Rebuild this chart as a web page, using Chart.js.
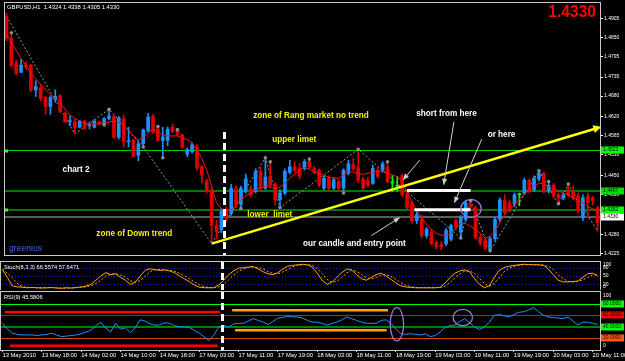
<!DOCTYPE html>
<html><head><meta charset="utf-8">
<script src="https://cdn.jsdelivr.net/npm/chart.js@4.4.1/dist/chart.umd.min.js"></script>
<style>
html,body{margin:0;padding:0;background:#000;width:625px;height:361px;overflow:hidden}
canvas{position:absolute;left:0;display:block}
</style></head><body>
<canvas id="cMain" width="625" height="259" style="top:0"></canvas>
<canvas id="cSto" width="625" height="30" style="top:260px"></canvas>
<canvas id="cRsi" width="625" height="71" style="top:290px"></canvas>
<script>
// ---------------- DATA ----------------
const categories = [
'13 May 10:00','13 May 11:00','13 May 12:00','13 May 13:00','13 May 14:00','13 May 15:00','13 May 16:00','13 May 17:00','13 May 18:00','13 May 19:00',
'13 May 20:00','13 May 21:00','13 May 22:00','13 May 23:00','14 May 00:00','14 May 01:00','14 May 02:00','14 May 03:00','14 May 04:00','14 May 05:00',
'14 May 06:00','14 May 07:00','14 May 08:00','14 May 09:00','14 May 10:00','14 May 11:00','14 May 12:00','14 May 13:00','14 May 14:00','14 May 15:00',
'14 May 16:00','14 May 17:00','14 May 18:00','14 May 19:00','14 May 20:00','14 May 21:00','14 May 22:00','17 May 00:00','17 May 01:00','17 May 02:00',
'17 May 03:00','17 May 04:00','17 May 05:00','17 May 06:00','17 May 07:00','17 May 08:00','17 May 09:00','17 May 10:00','17 May 11:00','17 May 12:00',
'17 May 13:00','17 May 14:00','17 May 15:00','17 May 16:00','17 May 17:00','17 May 18:00','17 May 19:00','17 May 20:00','17 May 21:00','17 May 22:00',
'17 May 23:00','18 May 00:00','18 May 01:00','18 May 02:00','18 May 03:00','18 May 04:00','18 May 05:00','18 May 06:00','18 May 07:00','18 May 08:00',
'18 May 09:00','18 May 10:00','18 May 11:00','18 May 12:00','18 May 13:00','18 May 14:00','18 May 15:00','18 May 16:00','18 May 17:00','18 May 18:00',
'18 May 19:00','18 May 20:00','18 May 21:00','18 May 22:00','18 May 23:00','19 May 00:00','19 May 01:00','19 May 02:00','19 May 03:00','19 May 04:00',
'19 May 05:00','19 May 06:00','19 May 07:00','19 May 08:00','19 May 09:00','19 May 10:00','19 May 11:00','19 May 12:00','19 May 13:00','19 May 14:00',
'19 May 15:00','19 May 16:00','19 May 17:00','19 May 18:00','19 May 19:00','19 May 20:00','19 May 21:00','19 May 22:00','19 May 23:00','20 May 00:00',
'20 May 01:00','20 May 02:00','20 May 03:00','20 May 04:00','20 May 05:00','20 May 06:00','20 May 07:00','20 May 08:00','20 May 09:00','20 May 10:00',
'20 May 11:00','20 May 12:00'];

const timeTicks = ['13 May 2010','13 May 18:00','14 May 02:00','14 May 10:00','14 May 18:00','17 May 03:00','17 May 11:00','17 May 19:00',
'18 May 03:00','18 May 11:00','18 May 19:00','19 May 03:00','19 May 11:00','19 May 19:00','20 May 03:00','20 May 11:00'];

const priceTicks = [1.4905,1.4850,1.4795,1.4735,1.4680,1.4620,1.4565,1.4510,1.4450,1.4395,1.4340,1.4280,1.4225];

const opens = [
1.4911,1.4846,1.4775,1.4749,1.4769,1.4769,1.4698,1.4704,1.4676,1.4650,
1.4670,1.4681,1.4630,1.4606,1.4605,1.4590,1.4608,1.4594,1.4590,1.4606,
1.4601,1.4615,1.4621,1.4561,1.4615,1.4548,1.4552,1.4509,1.4542,1.4580,
1.4621,1.4585,1.4552,1.4552,1.4590,1.4580,1.4568,1.4512,1.4519,1.4533,
1.4476,1.4435,1.4407,1.4307,1.4293,1.4349,1.4341,1.4412,1.4367,1.4405,
1.4412,1.4405,1.4462,1.4414,1.4448,1.4425,1.4381,1.4400,1.4460,1.4477,
1.4470,1.4471,1.4490,1.4471,1.4466,1.4414,1.4443,1.4414,1.4433,1.4414,
1.4457,1.4482,1.4473,1.4440,1.4437,1.4428,1.4466,1.4466,1.4476,1.4429,
1.4420,1.4450,1.4398,1.4370,1.4320,1.4325,1.4277,1.4287,1.4258,1.4250,
1.4253,1.4267,1.4321,1.4287,1.4324,1.4370,1.4358,1.4272,1.4265,1.4236,
1.4268,1.4324,1.4378,1.4372,1.4367,1.4395,1.4400,1.4437,1.4410,1.4440,
1.4457,1.4406,1.4423,1.4395,1.4386,1.4410,1.4405,1.4392,1.4329,1.4390,
1.4386,1.4358];
const highs = [
1.4920,1.4860,1.4784,1.4786,1.4778,1.4772,1.4724,1.4715,1.4679,1.4681,
1.4698,1.4684,1.4634,1.4622,1.4613,1.4610,1.4610,1.4605,1.4613,1.4608,
1.4618,1.4642,1.4625,1.4621,1.4625,1.4590,1.4555,1.4551,1.4585,1.4630,
1.4628,1.4592,1.4590,1.4591,1.4599,1.4583,1.4570,1.4530,1.4545,1.4540,
1.4480,1.4440,1.4412,1.4321,1.4355,1.4360,1.4425,1.4420,1.4420,1.4455,
1.4420,1.4470,1.4475,1.4502,1.4491,1.4430,1.4410,1.4470,1.4495,1.4490,
1.4485,1.4497,1.4498,1.4476,1.4470,1.4450,1.4450,1.4445,1.4440,1.4470,
1.4495,1.4500,1.4526,1.4445,1.4445,1.4480,1.4475,1.4491,1.4491,1.4452,
1.4448,1.4455,1.4402,1.4375,1.4345,1.4335,1.4300,1.4295,1.4262,1.4258,
1.4298,1.4310,1.4325,1.4335,1.4378,1.4378,1.4362,1.4280,1.4270,1.4272,
1.4330,1.4386,1.4395,1.4380,1.4400,1.4400,1.4443,1.4440,1.4450,1.4464,
1.4460,1.4433,1.4428,1.4400,1.4400,1.4425,1.4420,1.4400,1.4395,1.4400,
1.4390,1.4362];
const lows = [
1.4840,1.4764,1.4741,1.4747,1.4758,1.4693,1.4679,1.4667,1.4627,1.4627,
1.4662,1.4633,1.4605,1.4594,1.4571,1.4588,1.4583,1.4585,1.4588,1.4598,
1.4594,1.4611,1.4558,1.4556,1.4533,1.4533,1.4505,1.4493,1.4533,1.4577,
1.4573,1.4550,1.4502,1.4537,1.4574,1.4565,1.4528,1.4505,1.4515,1.4465,
1.4429,1.4400,1.4254,1.4268,1.4285,1.4318,1.4335,1.4358,1.4356,1.4400,
1.4390,1.4400,1.4408,1.4410,1.4418,1.4365,1.4358,1.4395,1.4455,1.4460,
1.4440,1.4466,1.4470,1.4455,1.4418,1.4410,1.4408,1.4410,1.4405,1.4400,
1.4452,1.4465,1.4430,1.4410,1.4418,1.4425,1.4443,1.4460,1.4430,1.4405,
1.4406,1.4390,1.4352,1.4312,1.4312,1.4270,1.4270,1.4250,1.4238,1.4236,
1.4248,1.4262,1.4295,1.4270,1.4318,1.4352,1.4268,1.4248,1.4235,1.4233,
1.4262,1.4318,1.4338,1.4345,1.4360,1.4363,1.4395,1.4400,1.4405,1.4435,
1.4400,1.4400,1.4385,1.4368,1.4380,1.4390,1.4380,1.4343,1.4320,1.4329,
1.4365,1.4290];
const closes = [
1.4846,1.4769,1.4747,1.4769,1.4764,1.4698,1.4707,1.4673,1.4650,1.4676,
1.4679,1.4634,1.4605,1.4609,1.4588,1.4607,1.4587,1.4596,1.4608,1.4601,
1.4615,1.4623,1.4561,1.4617,1.4549,1.4550,1.4506,1.4542,1.4582,1.4620,
1.4576,1.4552,1.4562,1.4585,1.4579,1.4570,1.4533,1.4526,1.4539,1.4473,
1.4452,1.4407,1.4306,1.4289,1.4348,1.4324,1.4414,1.4367,1.4414,1.4441,
1.4395,1.4462,1.4414,1.4446,1.4423,1.4381,1.4400,1.4463,1.4476,1.4466,
1.4449,1.4491,1.4476,1.4462,1.4424,1.4443,1.4414,1.4438,1.4414,1.4466,
1.4485,1.4470,1.4438,1.4414,1.4424,1.4471,1.4448,1.4485,1.4434,1.4429,
1.4420,1.4395,1.4358,1.4320,1.4338,1.4277,1.4296,1.4254,1.4244,1.4245,
1.4292,1.4306,1.4301,1.4329,1.4372,1.4360,1.4272,1.4255,1.4240,1.4268,
1.4324,1.4380,1.4343,1.4352,1.4395,1.4395,1.4437,1.4405,1.4443,1.4457,
1.4406,1.4422,1.4392,1.4386,1.4395,1.4395,1.4386,1.4349,1.4386,1.4372,
1.4378,1.4315];

// moving average (red line)
const maLine = [
1.4860,1.4835,1.4812,1.4789,1.4767,1.4747,1.4730,1.4713,1.4698,1.4684,
1.4673,1.4659,1.4642,1.4625,1.4616,1.4608,1.4602,1.4599,1.4599,1.4599,
1.4602,1.4605,1.4608,1.4605,1.4596,1.4582,1.4565,1.4554,1.4559,1.4573,
1.4585,1.4576,1.4568,1.4565,1.4565,1.4565,1.4559,1.4554,1.4545,1.4525,
1.4500,1.4466,1.4420,1.4372,1.4355,1.4349,1.4352,1.4366,1.4380,1.4392,
1.4400,1.4409,1.4414,1.4420,1.4417,1.4412,1.4417,1.4429,1.4443,1.4454,
1.4468,1.4474,1.4468,1.4460,1.4457,1.4451,1.4446,1.4443,1.4443,1.4451,
1.4463,1.4460,1.4457,1.4454,1.4457,1.4460,1.4463,1.4463,1.4457,1.4451,
1.4448,1.4431,1.4403,1.4375,1.4349,1.4329,1.4309,1.4295,1.4284,1.4278,
1.4278,1.4284,1.4298,1.4312,1.4312,1.4304,1.4295,1.4284,1.4270,1.4275,
1.4289,1.4315,1.4338,1.4352,1.4366,1.4383,1.4397,1.4409,1.4420,1.4429,
1.4426,1.4417,1.4412,1.4406,1.4400,1.4395,1.4386,1.4380,1.4372,1.4360,
1.4355,1.4349];

// ZigZag swing points (bar index, price)
const zigBars = [0,14,21,28,42,53,56,72,93,95,99,109,113,115,121];
const zigVals = [1.4911,1.4571,1.4642,1.4533,1.4254,1.4502,1.4358,1.4526,1.4270,1.4378,1.4233,1.4464,1.4368,1.4425,1.4290];
// grey fractal dots
const dotBars = [1,20,21,28,31,32,35,48,53,54,56,62,69,72,78,93,95,99,109,111,113,115];
const dotVals = [1.4863,1.4597,1.4642,1.4533,1.4592,1.4502,1.4583,1.4356,1.4502,1.4490,1.4358,1.4498,1.4400,1.4526,1.4490,1.4270,1.4378,1.4233,1.4464,1.4433,1.4369,1.4426];
// yellow trend line
const trendBars = [42,121];
const trendVals = [1.4254,1.4588];

// header values (last bar O H L C)
const headerSymbol = 'GBPUSD,H1';
const headerOHLC = [1.4324,1.4338,1.4305,1.4330];

// Stochastic(8,3,3)
const stochK = [
72,45,15,11,10,8,9,8,7,8,
9,7,6,8,7,9,11,14,20,35,
50,62,55,58,45,35,20,28,50,70,
76,72,70,72,68,62,50,40,30,18,
10,8,8,8,18,35,55,68,78,80,
82,84,75,65,58,55,62,75,85,88,
90,92,90,82,60,35,20,28,45,62,
75,72,55,40,35,45,55,60,50,38,
25,15,11,9,8,8,8,8,8,10,
25,45,60,68,72,65,40,20,8,15,
45,70,80,85,88,90,92,91,90,90,
88,75,55,35,29,29,30,32,45,58,
60,50];
const stochD = [
75,60,44,24,12,10,9,8,8,8,
8,8,7,7,7,8,9,11,15,23,
35,49,56,58,53,46,33,28,33,49,
65,73,73,71,70,67,60,51,40,29,
19,12,9,8,11,20,36,53,67,75,
80,82,80,75,66,59,58,64,74,83,
88,90,91,88,77,59,38,28,31,45,
61,70,67,56,43,40,45,53,55,49,
38,26,17,12,9,8,8,8,8,9,
14,27,43,58,67,68,59,42,23,14,
23,43,65,78,84,88,90,91,91,90,
89,84,73,55,40,31,29,30,36,45,
54,56];
const stochLevels = [20,50,80];

// RSI(9)
const rsi = [
46,36,29,27,26,26,26,25,26,27,
29,26,23,24,25,26,28,31,34,42,
48,38,31,46,36,38,30,38,52,50,
45,43,43,47,46,42,40,40,39,34,
29,23,16,26,40,42,40,45,46,46,
50,54,51,48,44,49,55,56,58,57,
57,55,51,48,48,46,43,46,48,52,
57,54,51,48,46,46,46,51,52,46,
36,28,27,28,27,26,28,23,25,31,
39,42,43,49,54,47,40,35,40,48,
60,61,59,57,61,65,66,69,73,66,
60,57,56,55,54,57,50,43,48,48,
46,44];
const rsiLevels = [80,60,40,20];

// ---------------- STYLE / ANNOTATIONS ----------------
const FONT = "'Liberation Sans', Arial, sans-serif";
const UP = '#1e8fff', DN = '#e00000', DOJI = '#00ff00';
function candleColor(i){ return closes[i] > opens[i] ? UP : (closes[i] < opens[i] ? DN : DOJI); }

const levelLines = [
  {value:1.4523, color:'#00d000', width:1, box:'#00ff00', marker:true},
  {value:1.4407, color:'#007800', width:2, box:'#00e000', marker:false},
  {value:1.4352, color:'#007800', width:2, box:'#00ff00', marker:true},
  {value:1.4330, color:'#5c5c5c', width:2, box:'#ffffff', marker:false}
];
const whiteSegments = [{from:82, to:95, value:1.4407},{from:83.5, to:95, value:1.4352}];
const arrows = [
  {from:[91.6,1.4606], to:[89.5,1.4424]},
  {from:[97.3,1.4556], to:[91.7,1.4372]},
  {from:[84.6,1.4495], to:[81.2,1.4438]},
  {from:[74.7,1.4277], to:[80.5,1.4329]}
];
const mainEllipses = [{bar:95.1, value:1.43553, rBar:2.09, rVal:0.0026}];
const notes = [
  {text:'zone of Rang market no trend', bar:50.5, value:1.46246, color:'#f2f200'},
  {text:'upper limet', bar:54.4, value:1.45536, color:'#f2f200'},
  {text:'chart 2', bar:11.5, value:1.44684, color:'#ffffff'},
  {text:'lower  limet', bar:49.3, value:1.43377, color:'#f2f200'},
  {text:'zone of Down trend', bar:18.4, value:1.42838, color:'#f2f200'},
  {text:'our candle and entry point', bar:60.7, value:1.42525, color:'#ffffff'},
  {text:'short from here', bar:83.9, value:1.46302, color:'#ffffff'},
  {text:'or here', bar:98.5, value:1.45678, color:'#ffffff'}
];
const dashBar = 44.6, dashTop = 1.4576;
const rsiSegments = [
  {from:0.5, to:44.2, value:65.7, color:'#ff0000'},
  {from:1.5, to:43.8, value:7.3, color:'#ff0000'},
  {from:46.7, to:78.4, value:68.5, color:'#ffa500'},
  {from:47.3, to:78.1, value:34.2, color:'#ffa500'}
];
const rsiEllipses = [{bar:80.2, value:44.5, rBar:1.36, rVal:28.6},{bar:93.6, value:56, rBar:1.97, rVal:14.2}];

Chart.defaults.animation = false;
Chart.defaults.font.family = FONT;
Chart.defaults.color = '#ffffff';

function arrow(ctx, x1, y1, x2, y2, color){
  ctx.strokeStyle = color; ctx.fillStyle = color; ctx.lineWidth = 1;
  ctx.beginPath(); ctx.moveTo(x1, y1); ctx.lineTo(x2, y2); ctx.stroke();
  const a = Math.atan2(y2 - y1, x2 - x1), L = 6, W = 2.6;
  ctx.beginPath(); ctx.moveTo(x2, y2);
  ctx.lineTo(x2 - L*Math.cos(a) + W*Math.sin(a), y2 - L*Math.sin(a) - W*Math.cos(a));
  ctx.lineTo(x2 - L*Math.cos(a) - W*Math.sin(a), y2 - L*Math.sin(a) + W*Math.cos(a));
  ctx.closePath(); ctx.fill();
}
function dashedVertical(chart, topVal){
  const {ctx, chartArea:a, scales:{x, y}} = chart;
  const px = Math.round(x.getPixelForValue(dashBar)) + 0.5;
  const top = topVal == null ? a.top : y.getPixelForValue(topVal);
  ctx.save(); ctx.strokeStyle = '#ffffff'; ctx.lineWidth = 3; ctx.setLineDash([7, 4]);
  ctx.beginPath(); ctx.moveTo(px, top); ctx.lineTo(px, a.bottom); ctx.stroke(); ctx.restore();
}
function paneBorder(chart, topGap){
  const {ctx, chartArea:a} = chart;
  ctx.save(); ctx.strokeStyle = '#c8c8c8'; ctx.lineWidth = 1;
  const t = a.top - topGap + 0.5;
  ctx.strokeRect(a.left + 0.5, t, a.right - a.left, a.bottom - t + 0.5);
  ctx.restore();
}
function axisBox(ctx, a, py, text, bg, fg){
  ctx.fillStyle = bg; ctx.fillRect(a.right + 1, Math.round(py) - 3.5, 23, 7);
  ctx.fillStyle = fg; ctx.font = '5px ' + FONT; ctx.textBaseline = 'middle'; ctx.textAlign = 'left';
  ctx.fillText(text, a.right + 3, Math.round(py));
}

const xCommon = {type:'category', offset:true, display:false, grid:{display:false}};

// ---------------- MAIN CHART ----------------
const mainPlugin = {
  id:'mainPlugin',
  beforeDatasetsDraw(chart){
    const {ctx, chartArea:a, scales:{y}} = chart;
    ctx.save();
    levelLines.forEach(l => {
      const py = Math.round(y.getPixelForValue(l.value)) + (l.width % 2 ? 0.5 : 0);
      ctx.strokeStyle = l.color; ctx.lineWidth = l.width;
      ctx.beginPath(); ctx.moveTo(a.left, py); ctx.lineTo(a.right, py); ctx.stroke();
      if (l.marker){ ctx.fillStyle = '#30ff30'; ctx.fillRect(a.left + 1, Math.round(py) - 1.5, 3, 3); }
    });
    ctx.restore();
  },
  afterDatasetsDraw(chart){
    const {ctx, chartArea:a, scales:{x, y}} = chart;
    ctx.save();
    ctx.strokeStyle = '#ffffff'; ctx.lineWidth = 3;
    whiteSegments.forEach(s => {
      const py = y.getPixelForValue(s.value);
      ctx.beginPath(); ctx.moveTo(x.getPixelForValue(s.from), py); ctx.lineTo(x.getPixelForValue(s.to), py); ctx.stroke();
    });
    const x1 = x.getPixelForValue(trendBars[0]), y1 = y.getPixelForValue(trendVals[0]);
    const x2 = x.getPixelForValue(trendBars[1]), y2 = y.getPixelForValue(trendVals[1]);
    const ang = Math.atan2(y2 - y1, x2 - x1);
    ctx.fillStyle = '#ffff00';
    const tx = x2 + 4*Math.cos(ang), ty = y2 + 4*Math.sin(ang);
    ctx.beginPath(); ctx.moveTo(tx, ty);
    ctx.lineTo(tx - 8*Math.cos(ang) + 4*Math.sin(ang), ty - 8*Math.sin(ang) - 4*Math.cos(ang));
    ctx.lineTo(tx - 8*Math.cos(ang) - 4*Math.sin(ang), ty - 8*Math.sin(ang) + 4*Math.cos(ang));
    ctx.closePath(); ctx.fill();
    arrows.forEach(r => arrow(ctx, x.getPixelForValue(r.from[0]), y.getPixelForValue(r.from[1]),
                                   x.getPixelForValue(r.to[0]), y.getPixelForValue(r.to[1]), '#d0d0d0'));
    ctx.strokeStyle = '#a070d8'; ctx.lineWidth = 1.3;
    mainEllipses.forEach(e => {
      const cx = x.getPixelForValue(e.bar), cy = y.getPixelForValue(e.value);
      const rx = x.getPixelForValue(e.bar + e.rBar) - cx, ry = cy - y.getPixelForValue(e.value + e.rVal);
      ctx.beginPath(); ctx.ellipse(cx, cy, rx, ry, 0, 0, Math.PI*2); ctx.stroke();
    });
    ctx.restore();
    dashedVertical(chart, dashTop);
    ctx.save();
    ctx.font = 'bold 8.2px ' + FONT; ctx.textBaseline = 'middle'; ctx.textAlign = 'left';
    notes.forEach(n => { ctx.fillStyle = n.color; ctx.fillText(n.text, x.getPixelForValue(n.bar), y.getPixelForValue(n.value)); });
    ctx.restore();
  },
  afterDraw(chart){
    const {ctx, chartArea:a, scales:{y}} = chart;
    ctx.save();
    paneBorder(chart, 2);
    levelLines.forEach(l => axisBox(ctx, a, y.getPixelForValue(l.value), l.value.toFixed(4), l.box, '#000000'));
    ctx.textBaseline = 'middle'; ctx.textAlign = 'left';
    ctx.fillStyle = '#ffffff'; ctx.font = '5.8px ' + FONT;
    ctx.fillText(headerSymbol + '  ' + headerOHLC.map(v => v.toFixed(4)).join(' '), a.left + 3, 7);
    ctx.fillStyle = '#ff0000'; ctx.font = 'bold 15.6px ' + FONT; ctx.textAlign = 'right';
    ctx.fillText(headerOHLC[3].toFixed(4), 596, 13);
    ctx.fillStyle = '#3a66e0'; ctx.font = '8.6px ' + FONT; ctx.textAlign = 'left';
    ctx.fillText('greenius', a.left + 5, 249);
    ctx.restore();
  }
};

new Chart(document.getElementById('cMain'), {
  type:'bar',
  data:{labels:categories, datasets:[
    {type:'line', data:zigBars.map((b,k)=>({x:categories[b], y:zigVals[k]})), borderColor:'#9a9a9a', borderWidth:1, borderDash:[2,2], pointRadius:0, order:7},
    {data:lows.map((l,i)=>[l, highs[i]]), backgroundColor:c=>candleColor(c.dataIndex), barThickness:1, grouped:false, order:6},
    {data:opens.map((o,i)=>[o, closes[i]]), backgroundColor:c=>candleColor(c.dataIndex), barThickness:3, minBarLength:1, grouped:false, order:5},
    {type:'line', data:maLine, borderColor:'#ff1010', borderWidth:1, pointRadius:0, order:4},
    {type:'line', data:trendBars.map((b,k)=>({x:categories[b], y:trendVals[k]})), borderColor:'#ffff00', borderWidth:2.5, pointRadius:0, order:3},
    {type:'line', data:dotBars.map((b,k)=>({x:categories[b], y:dotVals[k]})), showLine:false, pointRadius:1.8, pointBackgroundColor:'#8c8c8c', pointBorderWidth:0, order:2}
  ]},
  options:{
    responsive:false, animation:false,
    layout:{padding:{left:0, right:0, top:3, bottom:1}},
    plugins:{legend:{display:false}, tooltip:{enabled:false}},
    scales:{
      x:xCommon,
      y:{position:'right', min:1.4221, max:1.4946,
         afterBuildTicks(s){ s.ticks = priceTicks.map(v=>({value:v})); },
         afterFit(s){ s.width = 25; },
         ticks:{autoSkip:false, callback:v=>Number(v).toFixed(4), font:{size:5}, color:'#ffffff', padding:1},
         grid:{drawOnChartArea:false, color:'#ffffff', tickLength:3},
         border:{color:'#ffffff'}}
    }
  },
  plugins:[mainPlugin]
});

// ---------------- STOCHASTIC ----------------
const stoPlugin = {
  id:'stoPlugin',
  beforeDatasetsDraw(chart){
    const {ctx, chartArea:a, scales:{y}} = chart;
    ctx.save(); ctx.strokeStyle = '#1a1ac8'; ctx.lineWidth = 1; ctx.setLineDash([1,2]);
    stochLevels.forEach(v => { const py = Math.round(y.getPixelForValue(v)) + 0.5;
      ctx.beginPath(); ctx.moveTo(a.left, py); ctx.lineTo(a.right, py); ctx.stroke(); });
    ctx.restore();
  },
  afterDraw(chart){
    const {ctx, chartArea:a, scales:{y}} = chart;
    dashedVertical(chart, null);
    ctx.save(); paneBorder(chart, 1);
    ctx.fillStyle = '#ffffff'; ctx.font = '5.7px ' + FONT; ctx.textBaseline = 'middle'; ctx.textAlign = 'left';
    ctx.fillText('Stoch(8,3,3) ' + stochK.length && 'Stoch(8,3,3) 66.5574 57.6471', a.left + 4, 7);
    ctx.font = '5px ' + FONT;
    [[100,3],[80,0],[50,0],[20,0],[0,-3]].forEach(([v,o]) => ctx.fillText(String(v), a.right + 3, y.getPixelForValue(v) + o));
    ctx.restore();
  }
};
new Chart(document.getElementById('cSto'), {
  type:'line',
  data:{labels:categories, datasets:[
    {data:stochK, borderColor:'#ffa500', borderWidth:1, pointRadius:0},
    {data:stochD, borderColor:'#ffa500', borderWidth:1, borderDash:[2,2], pointRadius:0}
  ]},
  options:{
    responsive:false, animation:false,
    layout:{padding:{left:0, right:0, top:2, bottom:0}},
    plugins:{legend:{display:false}, tooltip:{enabled:false}},
    scales:{
      x:xCommon,
      y:{position:'right', min:0, max:100, afterFit(s){ s.width = 25; },
         ticks:{display:false}, grid:{display:false}, border:{color:'#ffffff'}}
    }
  },
  plugins:[stoPlugin]
});

// ---------------- RSI ----------------
const rsiPlugin = {
  id:'rsiPlugin',
  beforeDatasetsDraw(chart){
    const {ctx, chartArea:a, scales:{x, y}} = chart;
    const styles = {80:['#00ff00',1], 60:['#ff0000',1], 40:['#008000',2], 20:['#d04a10',1]};
    ctx.save();
    rsiLevels.forEach(v => { const [c, w] = styles[v]; const py = Math.round(y.getPixelForValue(v)) + (w % 2 ? 0.5 : 0);
      ctx.strokeStyle = c; ctx.lineWidth = w; ctx.beginPath(); ctx.moveTo(a.left, py); ctx.lineTo(a.right, py); ctx.stroke(); });
    rsiSegments.forEach(s => { const py = y.getPixelForValue(s.value);
      ctx.strokeStyle = s.color; ctx.lineWidth = 2.5; ctx.beginPath();
      ctx.moveTo(x.getPixelForValue(s.from), py); ctx.lineTo(x.getPixelForValue(s.to), py); ctx.stroke(); });
    ctx.restore();
  },
  afterDatasetsDraw(chart){
    const {ctx, scales:{x, y}} = chart;
    ctx.save(); ctx.strokeStyle = '#a070d8'; ctx.lineWidth = 1.3;
    rsiEllipses.forEach(e => {
      const cx = x.getPixelForValue(e.bar), cy = y.getPixelForValue(e.value);
      const rx = x.getPixelForValue(e.bar + e.rBar) - cx, ry = cy - y.getPixelForValue(e.value + e.rVal);
      ctx.beginPath(); ctx.ellipse(cx, cy, rx, ry, 0, 0, Math.PI*2); ctx.stroke();
    });
    ctx.restore();
  },
  afterDraw(chart){
    const {ctx, chartArea:a, scales:{y}} = chart;
    dashedVertical(chart, null);
    ctx.save(); paneBorder(chart, 1);
    ctx.fillStyle = '#ffffff'; ctx.font = '5.7px ' + FONT; ctx.textBaseline = 'middle'; ctx.textAlign = 'left';
    ctx.fillText('RSI(9) 45.5806', a.left + 4, 7);
    ctx.font = '5px ' + FONT;
    ctx.fillText('100', a.right + 3, y.getPixelForValue(100) + 4);
    ctx.fillText('0', a.right + 3, y.getPixelForValue(0) - 4);
    const boxes = {80:'#00ff00', 60:'#ff0000', 40:'#00ff00', 20:'#ff5a1a'};
    rsiLevels.forEach(v => axisBox(ctx, a, y.getPixelForValue(v), v.toFixed(4), boxes[v], '#000000'));
    ctx.restore();
  }
};
new Chart(document.getElementById('cRsi'), {
  type:'line',
  data:{labels:categories, datasets:[
    {data:rsi, borderColor:'#1e90ff', borderWidth:1, pointRadius:0}
  ]},
  options:{
    responsive:false, animation:false,
    layout:{padding:{left:0, right:0, top:2, bottom:0}},
    plugins:{legend:{display:false}, tooltip:{enabled:false}},
    scales:{
      x:{type:'category', offset:true, display:true,
         afterFit(s){ s.height = 11; },
         ticks:{autoSkip:false, maxRotation:0, minRotation:0, align:'start', padding:0, font:{size:5.8}, color:'#ffffff',
                callback:(v, i) => (i % 8 === 0 ? timeTicks[i/8] : '')},
         grid:{display:true, drawOnChartArea:false, tickLength:2, color:c => (c.index % 8 === 0 ? '#cfcfcf' : 'rgba(0,0,0,0)')},
         border:{display:false}},
      y:{position:'right', min:0, max:100, afterFit(s){ s.width = 25; },
         ticks:{display:false}, grid:{display:false}, border:{color:'#ffffff'}}
    }
  },
  plugins:[rsiPlugin]
});
</script>
</body></html>
